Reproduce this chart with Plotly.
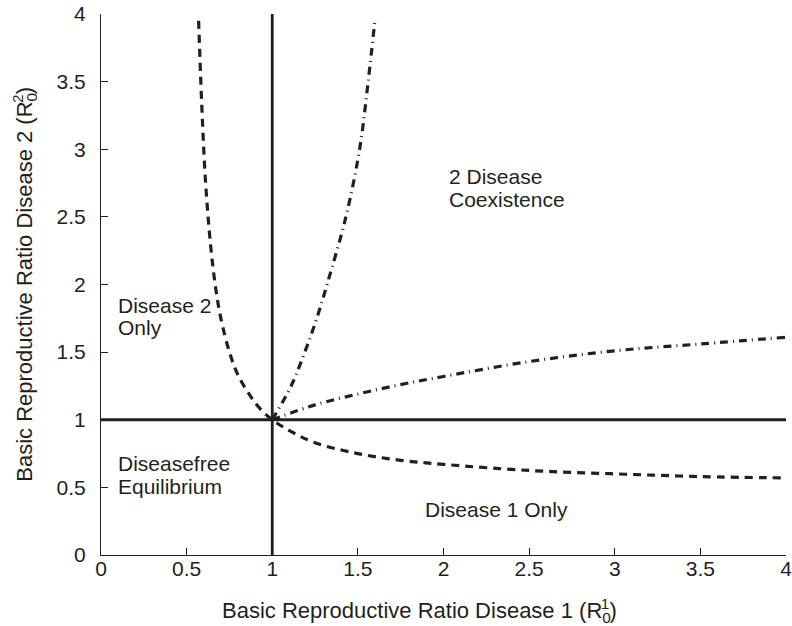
import plotly.graph_objects as go

# Boundary curves
dashed_x = [0.57, 0.59, 0.61, 0.64, 0.67, 0.70, 0.75, 0.80, 0.87, 0.93, 1.00,
            1.10, 1.25, 1.50, 1.75, 2.00, 2.50, 3.00, 3.50, 4.00]
dashed_y = [3.95, 3.28, 2.77, 2.29, 1.97, 1.75, 1.50, 1.33, 1.18, 1.08, 1.00,
            0.92, 0.83, 0.75, 0.70, 0.67, 0.625, 0.60, 0.58, 0.57]

dd_low_x = [1.00, 1.25, 1.50, 1.75, 2.00, 2.50, 3.00, 3.50, 4.00]
dd_low_y = [1.00, 1.11, 1.19, 1.26, 1.32, 1.43, 1.51, 1.56, 1.61]

dd_up_x = [1.00, 1.11, 1.19, 1.26, 1.32, 1.43, 1.51, 1.56, 1.60]
dd_up_y = [1.00, 1.25, 1.50, 1.75, 2.00, 2.50, 3.00, 3.50, 3.96]

vline_x = [1, 1]
vline_y = [0, 4]
hline_x = [0, 4]
hline_y = [1, 1]

tick_vals = [0, 0.5, 1, 1.5, 2, 2.5, 3, 3.5, 4]
tick_text = ["0", "0.5", "1", "1.5", "2", "2.5", "3", "3.5", "4"]

# Region labels, one entry per text line
region_lines = ["2 Disease", "Coexistence", "Disease 2", "Only",
                "Diseasefree", "Equilibrium", "Disease 1 Only"]
region_x = [2.02, 2.02, 0.09, 0.09, 0.09, 0.09, 1.88]
region_y = [2.80, 2.63, 1.845, 1.68, 0.68, 0.505, 0.333]

ink = "#231f20"
font_family = "Liberation Sans, Arial, sans-serif"

fig = go.Figure()
fig.add_trace(go.Scatter(x=vline_x, y=vline_y, mode="lines",
                         line=dict(color=ink, width=2.8), hoverinfo="skip"))
fig.add_trace(go.Scatter(x=hline_x, y=hline_y, mode="lines",
                         line=dict(color=ink, width=2.8), hoverinfo="skip"))
fig.add_trace(go.Scatter(x=dashed_x, y=dashed_y, mode="lines",
                         line=dict(color=ink, width=3.2, dash="8px,6px", shape="spline")))
fig.add_trace(go.Scatter(x=dd_low_x, y=dd_low_y, mode="lines",
                         line=dict(color=ink, width=3.2, dash="8px,5px,1px,5px", shape="spline")))
fig.add_trace(go.Scatter(x=dd_up_x, y=dd_up_y, mode="lines",
                         line=dict(color=ink, width=3.2, dash="8px,5px,1px,5px", shape="spline")))

for t, x, y in zip(region_lines, region_x, region_y):
    fig.add_annotation(x=x, y=y, text=t, showarrow=False, xanchor="left",
                       yanchor="middle", align="left",
                       font=dict(size=21, color=ink, family=font_family))

fig.add_annotation(xref="paper", yref="paper", x=0.465, y=-0.1, yanchor="middle",
                   text="Basic Reproductive Ratio Disease 1 (R<sub><span style=\"letter-spacing:-10px\">0</span></sub><sup>1</sup>)",
                   showarrow=False, font=dict(size=22, color=ink, family=font_family))
fig.add_annotation(xref="paper", yref="paper", x=-0.115, y=0.5, xanchor="center",
                   textangle=-90,
                   text="Basic Reproductive Ratio Disease 2 (R<sub><span style=\"letter-spacing:-10px\">0</span></sub><sup>2</sup>)",
                   showarrow=False, font=dict(size=22, color=ink, family=font_family))

axis_common = dict(range=[0, 4], tickvals=tick_vals, ticktext=tick_text,
                   showgrid=False, zeroline=False, showline=True, linecolor=ink,
                   linewidth=1, ticks="inside", ticklen=7, tickcolor=ink,
                   tickfont=dict(size=21, color=ink, family=font_family),
                   ticklabeloverflow="allow", mirror=False)
fig.update_xaxes(**axis_common, ticklabelstandoff=-5)
fig.update_yaxes(**axis_common, ticklabelstandoff=10)

fig.update_layout(width=792, height=626, showlegend=False,
                  plot_bgcolor="white", paper_bgcolor="white",
                  margin=dict(l=101, r=0, t=14, b=71))
fig.write_html("out.html")
